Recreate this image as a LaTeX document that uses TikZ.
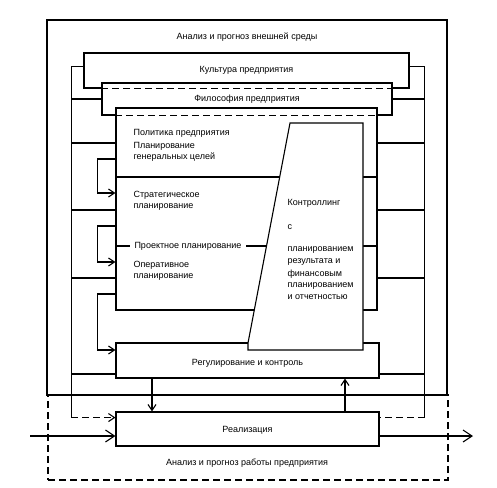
\documentclass[tikz,border=0pt]{standalone}
\usepackage{fontspec}
\setmainfont{Liberation Sans}
\usetikzlibrary{arrows.meta}
\begin{document}
\begin{tikzpicture}[x=1pt,y=-1pt,line width=1.1pt,
  lbl/.style={font=\fontsize{9}{11}\selectfont,inner sep=0pt},
  blk/.style={draw,fill=white,inner sep=0pt,font=\fontsize{9}{11}\selectfont},
  sarrow/.style={-{Straight Barb[length=6pt,width=8pt]}},
  barrow/.style={-{Straight Barb[length=9pt,width=12pt]}},
  dashln/.style={dash pattern=on 7pt off 4pt}]
\useasboundingbox (0,0) rectangle (497,487);
% outer areas
\node[draw,dashln,inner sep=0pt,minimum width=400pt,minimum height=85pt] (perf) at (248,437.5) {};
\node[draw,inner sep=0pt,minimum width=400pt,minimum height=375pt] (outer) at (247,207.5) {};
\node[lbl] (extlbl) at (247,37) {Анализ и прогноз внешней среды};
\node[lbl] (perflbl) at (247,463) {Анализ и прогноз работы предприятия};
% frame
\node[inner sep=0pt,minimum width=352pt,minimum height=350pt] (frame) at (248,242) {};
\draw (frame.north west) -- (frame.south west);
\draw (frame.north east) -- (frame.south east);
% culture / philosophy / main
\node[blk,minimum width=325pt,minimum height=35pt] (cult) at (246.5,70.5) {Культура предприятия};
\draw (frame.north west) -- (frame.north west -| cult.west);
\draw (frame.north east) -- (frame.north east -| cult.east);
\node[blk,minimum width=290pt,minimum height=32pt] (phil) at (247,99) {Философия предприятия};
\draw[dashln] (phil.west |- cult.south) -- (phil.east |- cult.south);
\draw (frame.west |- phil.west) -- (phil.west);
\draw (frame.east |- phil.east) -- (phil.east);
\node[blk,minimum width=261pt,minimum height=202pt] (main) at (246.5,209) {};
\draw[dashln] (main.west |- phil.south) -- (main.east |- phil.south);
\foreach \yy in {143,210,278}{
  \draw (frame.west |- 0,\yy) -- (main.west |- 0,\yy);
  \draw (frame.east |- 0,\yy) -- (main.east |- 0,\yy);
}
\draw (main.west |- 0,177) -- (main.east |- 0,177);
\draw (main.west |- 0,246) -- (main.east |- 0,246);
% regulation and realisation
\node[blk,minimum width=263pt,minimum height=35pt] (reg) at (247.5,360.5) {};
\node[blk,minimum width=263pt,minimum height=34pt] (real) at (247.5,429) {};
\draw (frame.west |- 0,374) -- (reg.west |- 0,374);
\draw (frame.east |- 0,374) -- (reg.east |- 0,374);
\draw[dashln,sarrow] (frame.south west) -- (real.west |- frame.south);
\draw[dashln] (frame.south east) -- (real.east |- frame.south);
% feedback arrows
\draw[sarrow] (main.west |- 0,159) -- ++(-18,0) |- (main.west |- 0,193);
\draw[sarrow] (main.west |- 0,226) -- ++(-18,0) |- (main.west |- 0,262);
\draw[sarrow] (main.west |- 0,294) -- ++(-18,0) |- (reg.west |- 0,350);
% controlling shape
\coordinate (c1) at (290,123);
\coordinate (c2) at (363,123);
\coordinate (c3) at (363,350);
\coordinate (c4) at (248,350);
\coordinate (c5) at (248,343);
\draw[fill=white] (c1) -- (c2) -- (c3) -- (c4) -- (c5) -- cycle;
% texts
\node[lbl,fill=white,inner xsep=5pt,inner ysep=2pt] (proj) at (188,246) {Проектное планирование};
\node[lbl,anchor=west] (pol) at (133,133) {Политика предприятия};
\node[lbl,anchor=west] (plan1) at (133,146) {Планирование};
\node[lbl,anchor=west] (plan2) at (133,157) {генеральных целей};
\node[lbl,anchor=west] (str1) at (133,195) {Стратегическое};
\node[lbl,anchor=west] (str2) at (133,207) {планирование};
\node[lbl,anchor=west] (op1) at (133,265) {Оперативное};
\node[lbl,anchor=west] (op2) at (133,277) {планирование};
\node[lbl,anchor=west] (k1) at (287,203) {Контроллинг};
\node[lbl,anchor=west] (k2) at (287,227) {с};
\node[lbl,anchor=west] (k3) at (287,250) {планированием};
\node[lbl,anchor=west] (k4) at (287,262) {результата и};
\node[lbl,anchor=west] (k5) at (287,274) {финансовым};
\node[lbl,anchor=west] (k6) at (287,286) {планированием};
\node[lbl,anchor=west] (k7) at (287,297) {и отчетностью};
\node[lbl] (regt) at (247.5,363) {Регулирование и контроль};
\node[lbl] (realt) at (247.5,430) {Реализация};
% vertical arrows
\draw[sarrow] (reg.south -| 152,0) -- (real.north -| 152,0);
\draw[sarrow] (real.north -| 345,0) -- (reg.south -| 345,0);
% input / output
\coordinate (in) at (30,436);
\coordinate (out) at (473,436);
\draw[barrow] (in) -- (real.west |- in);
\draw[barrow] (real.east |- out) -- (out);
\end{tikzpicture}
\end{document}
